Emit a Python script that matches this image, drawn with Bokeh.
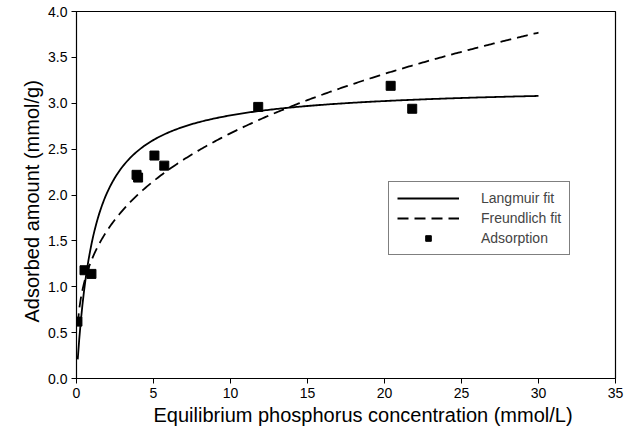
import numpy as np
from bokeh.plotting import figure
from bokeh.models import Range1d, Legend, LegendItem, FixedTicker, Title, CustomJSTickFormatter
from bokeh.embed import file_html
from bokeh.resources import INLINE

# Measured equilibrium data
conc = [0.06, 0.52, 0.97, 3.9, 4.0, 5.06, 5.7, 11.8, 20.4, 21.8]
adsorbed = [0.62, 1.18, 1.14, 2.22, 2.19, 2.43, 2.32, 2.96, 3.19, 2.94]

# Fitted isotherm parameters
qm_langmuir = 3.198
k_langmuir = 0.869
kf_freundlich = 1.30
n_inv_freundlich = 0.313

c_fit = np.linspace(0.08, 30, 300)
q_langmuir = qm_langmuir * k_langmuir * c_fit / (1 + k_langmuir * c_fit)
q_freundlich = kf_freundlich * c_fit ** n_inv_freundlich

FONT = "Liberation Sans"

p = figure(width=624, height=439, output_backend="svg", toolbar_location=None,
           x_range=Range1d(0, 35), y_range=Range1d(0, 4),
           min_border_left=76, min_border_right=9, min_border_top=11, min_border_bottom=61)
p.xgrid.visible = False
p.ygrid.visible = False
p.outline_line_color = "black"
p.outline_line_width = 1.2
p.background_fill_color = "white"
p.border_fill_color = "white"

for ax in (p.xaxis[0], p.yaxis[0]):
    ax.axis_line_color = "black"
    ax.major_tick_line_color = "black"
    ax.major_tick_out = 5
    ax.major_tick_in = 0
    ax.minor_tick_line_color = None
    ax.major_label_text_font = FONT
    ax.major_label_text_font_size = "14px"
    ax.major_label_text_color = "black"

p.xaxis.ticker = FixedTicker(ticks=[0, 5, 10, 15, 20, 25, 30, 35])
p.yaxis.ticker = FixedTicker(ticks=[0, 0.5, 1, 1.5, 2, 2.5, 3, 3.5, 4])
p.yaxis.formatter = CustomJSTickFormatter(code="return tick.toFixed(1);")
p.xaxis.major_label_standoff = 4
p.yaxis.major_label_standoff = 4

# Axis titles as side titles so they can be nudged along the axis
p.add_layout(Title(text="Equilibrium phosphorus concentration (mmol/L)",
                   text_font=FONT, text_font_size="20px", text_font_style="normal",
                   text_color="black", align="left", offset=77, standoff=3), "below")
p.add_layout(Title(text="Adsorbed amount (mmol/g)",
                   text_font=FONT, text_font_size="20px", text_font_style="normal",
                   text_color="black", align="left", offset=56, standoff=6), "left")

r_l = p.line(c_fit, q_langmuir, line_color="black", line_width=1.8)
r_f = p.line(c_fit, q_freundlich, line_color="black", line_width=1.8, line_dash="11 6")
r_d = p.scatter(conc, adsorbed, marker="square", size=9, fill_color="black", line_color="black")

legend = Legend(items=[LegendItem(label="Langmuir fit", renderers=[r_l]),
                       LegendItem(label="Freundlich fit", renderers=[r_f]),
                       LegendItem(label="Adsorption", renderers=[r_d])],
                location=(312, 123))
legend.label_text_font = FONT
legend.label_text_font_size = "14px"
legend.glyph_width = 62
legend.glyph_height = 14
legend.spacing = 4
legend.padding = 8
legend.margin = 0
legend.label_standoff = 22
legend.border_line_color = "black"
legend.border_line_width = 1
p.add_layout(legend, "center")

open("out.html", "w").write(file_html(p, INLINE))
